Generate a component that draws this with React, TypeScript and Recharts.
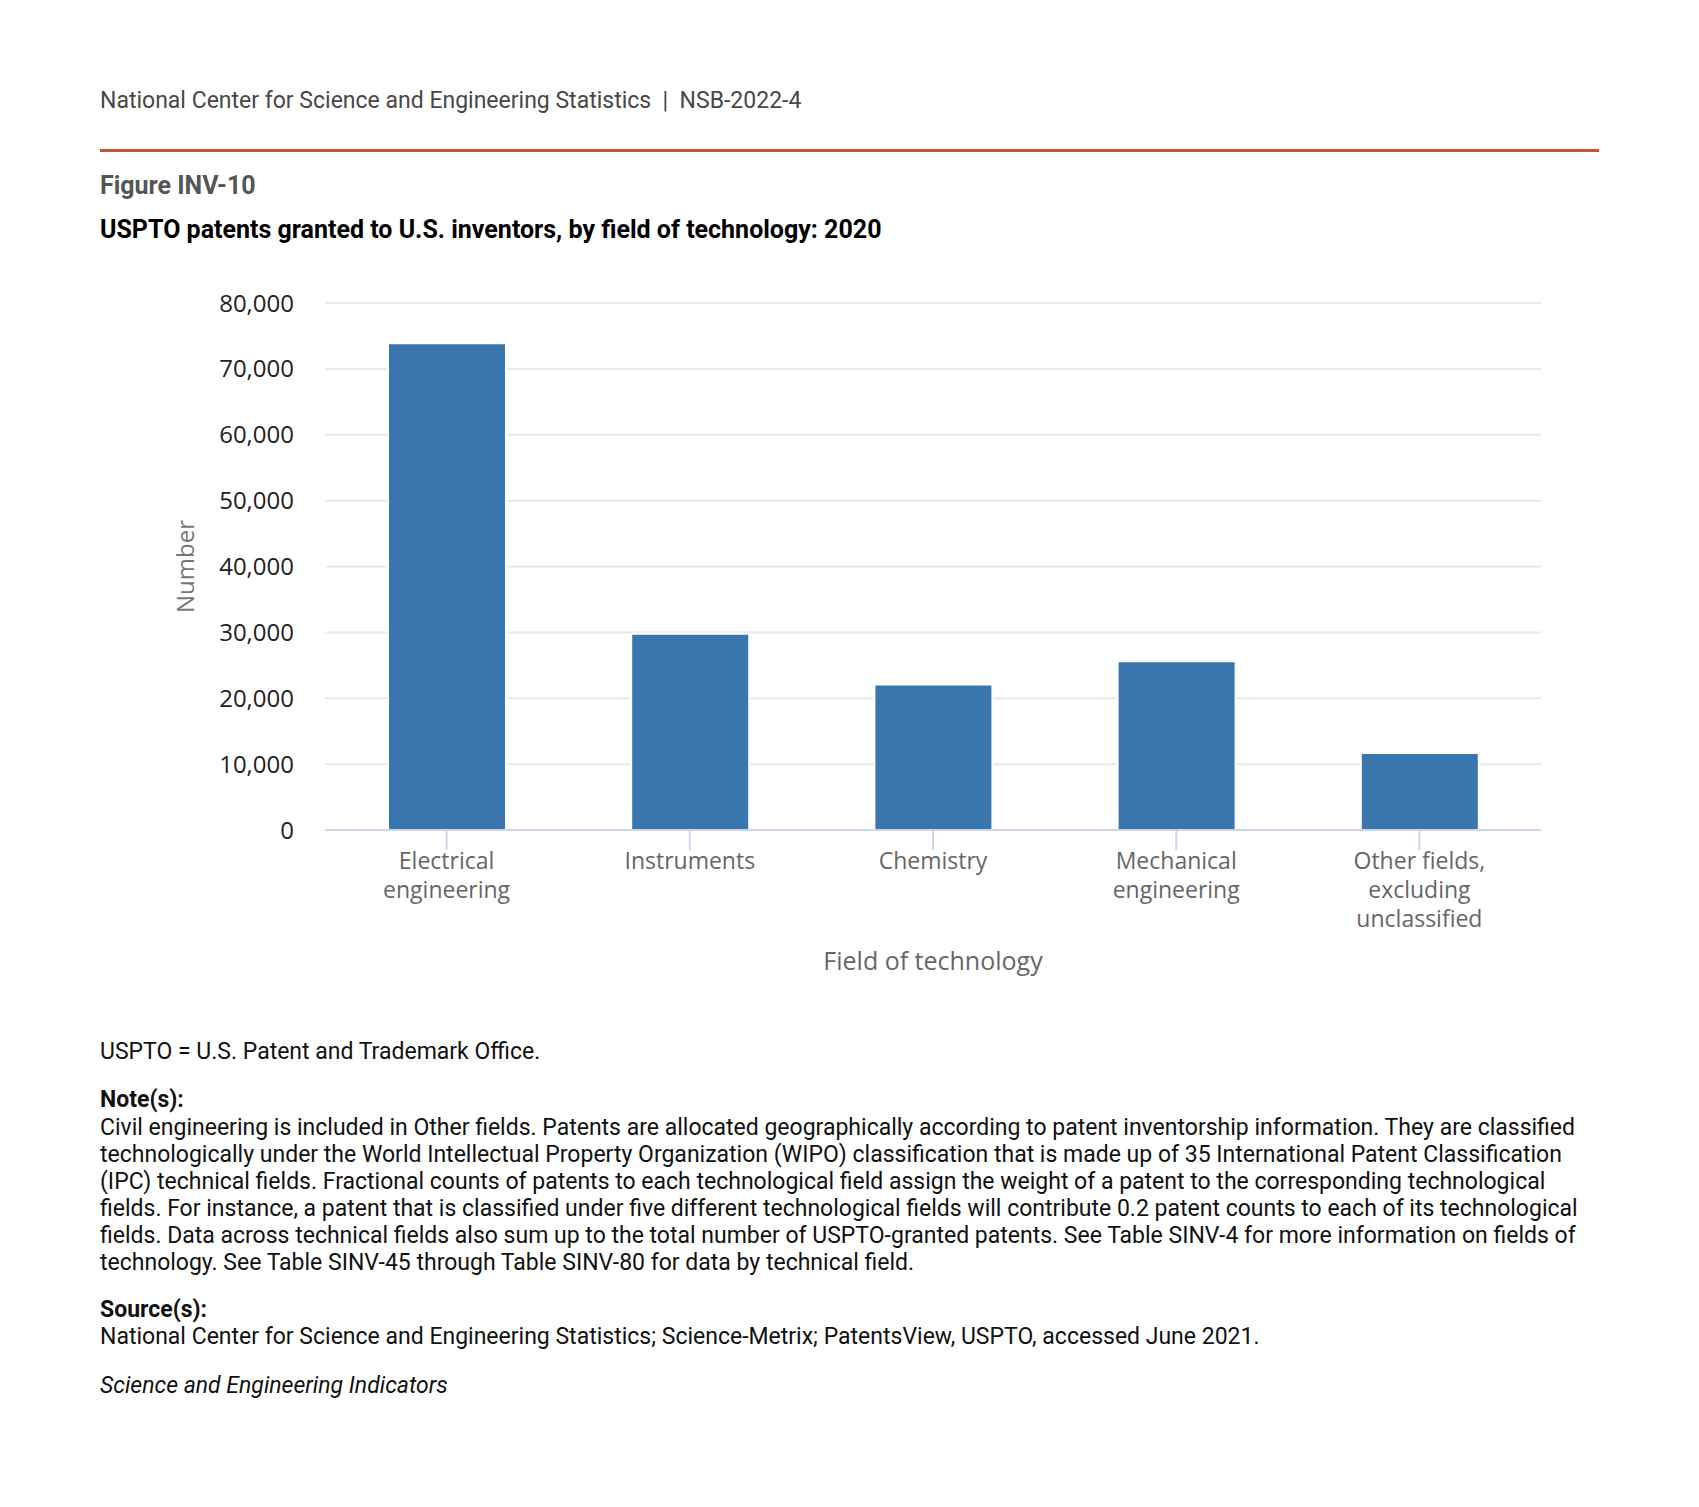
import React from "react";
import { BarChart, Bar, XAxis, YAxis, CartesianGrid, Label } from "recharts";

// Field of technology categories
const categories = [
  "Electrical engineering",
  "Instruments",
  "Chemistry",
  "Mechanical engineering",
  "Other fields, excluding unclassified",
];

// tick labels as they wrap under the axis
const tickLabels: string[][] = [
  ["Electrical", "engineering"],
  ["Instruments"],
  ["Chemistry"],
  ["Mechanical", "engineering"],
  ["Other fields,", "excluding", "unclassified"],
];

// patents granted, 2020
const patents = [73900, 29800, 22100, 25600, 11700];

const yTicks = [0, 10000, 20000, 30000, 40000, 50000, 60000, 70000, 80000];

const noteLines = [
  "Civil engineering is included in Other fields. Patents are allocated geographically according to patent inventorship information. They are classified",
  "technologically under the World Intellectual Property Organization (WIPO) classification that is made up of 35 International Patent Classification",
  "(IPC) technical fields. Fractional counts of patents to each technological field assign the weight of a patent to the corresponding technological",
  "fields. For instance, a patent that is classified under five different technological fields will contribute 0.2 patent counts to each of its technological",
  "fields. Data across technical fields also sum up to the total number of USPTO-granted patents. See Table SINV-4 for more information on fields of",
  "technology. See Table SINV-45 through Table SINV-80 for data by technical field.",
];

const AXIS_FONT = "'Open Sans', sans-serif";
const TEXT_FONT = "Roboto, sans-serif";

const data = categories.map((name, i) => ({
  name,
  value: patents[i],
}));

const XTick = (props: any) => {
  const { x, y, index } = props;
  const lines = tickLabels[index] || [];
  return (
    <text
      x={x}
      y={y}
      textAnchor="middle"
      fontFamily={AXIS_FONT}
      fontSize={23}
      fill="#666666"
    >
      {lines.map((l, i) => (
        <tspan key={i} x={x} dy={i === 0 ? 17 : 29}>
          {l}
        </tspan>
      ))}
    </text>
  );
};

const YLabel = (props: any) => {
  const vb = props.viewBox || { x: 0, y: 0, width: 0, height: 0 };
  const cx = 184;
  const cy = vb.y + vb.height / 2;
  return (
    <text
      x={cx}
      y={cy}
      transform={`rotate(-90, ${cx}, ${cy})`}
      textAnchor="middle"
      dominantBaseline="central"
      fontFamily={AXIS_FONT}
      fontSize={24}
      fill="#777777"
    >
      Number
    </text>
  );
};

const XLabel = (props: any) => {
  const vb = props.viewBox || { x: 0, y: 0, width: 0, height: 0 };
  return (
    <text
      x={vb.x + vb.width / 2}
      y={vb.y + 140}
      textAnchor="middle"
      fontFamily={AXIS_FONT}
      fontSize={25}
      fill="#666666"
    >
      Field of technology
    </text>
  );
};

const abs = (top: number, extra: React.CSSProperties = {}): React.CSSProperties => ({
  position: "absolute",
  left: 100,
  top,
  whiteSpace: "nowrap",
  fontFamily: TEXT_FONT,
  fontSize: 23,
  lineHeight: "27px",
  color: "#111111",
  ...extra,
});

export default function App() {
  return (
    <div
      style={{
        position: "absolute",
        left: 0,
        top: 0,
        width: 1699,
        height: 1507,
        background: "#ffffff",
        overflow: "hidden",
      }}
    >
      <div style={abs(87, { color: "#474747", fontSize: 23 })}>
        National Center for Science and Engineering Statistics&nbsp;&nbsp;|&nbsp;&nbsp;NSB-2022-4
      </div>
      <div
        style={{
          position: "absolute",
          left: 100,
          top: 149,
          width: 1499,
          height: 3,
          background: "#c9523b",
        }}
      />
      <div style={abs(172, { color: "#555555", fontWeight: 700, fontSize: 25 })}>Figure INV-10</div>
      <div style={abs(216, { color: "#000000", fontWeight: 700, fontSize: 25 })}>
        USPTO patents granted to U.S. inventors, by field of technology: 2020
      </div>

      <div style={{ position: "absolute", left: 0, top: 0 }}>
        <BarChart
          width={1699}
          height={990}
          data={data}
          margin={{ top: 303, right: 158, left: 0, bottom: 0 }}
        >
          <CartesianGrid vertical={false} stroke="#e8e8e8" strokeWidth={2} />
          <YAxis
            width={325}
            domain={[0, 80000]}
            ticks={yTicks}
            interval={0}
            axisLine={false}
            tickLine={false}
            tickSize={0}
            tickMargin={31}
            tickFormatter={(v: number) => v.toLocaleString("en-US")}
            tick={{ fontFamily: AXIS_FONT, fontSize: 24, fill: "#222222" }}
          >
            <Label content={YLabel} />
          </YAxis>
          <XAxis
            dataKey="name"
            height={160}
            interval={0}
            axisLine={{ stroke: "#ccd6eb", strokeWidth: 2 }}
            tickLine={{ stroke: "#ccd6eb", strokeWidth: 2 }}
            tickSize={20}
            tickMargin={2}
            tick={<XTick />}
          >
            <Label content={XLabel} />
          </XAxis>
          <Bar
            dataKey="value"
            fill="#3a76ae"
            stroke="#ffffff"
            strokeWidth={2}
            barSize={118}
            isAnimationActive={false}
          />
        </BarChart>
      </div>

      <div style={abs(1038)}>USPTO = U.S. Patent and Trademark Office.</div>
      <div style={abs(1086, { fontWeight: 700 })}>Note(s):</div>
      {noteLines.map((line, i) => (
        <div key={i} style={abs(1114 + i * 27)}>
          {line}
        </div>
      ))}
      <div style={abs(1296, { fontWeight: 700 })}>Source(s):</div>
      <div style={abs(1323)}>
        National Center for Science and Engineering Statistics; Science-Metrix; PatentsView, USPTO, accessed June 2021.
      </div>
      <div style={abs(1372, { fontStyle: "italic" })}>Science and Engineering Indicators</div>
    </div>
  );
}
